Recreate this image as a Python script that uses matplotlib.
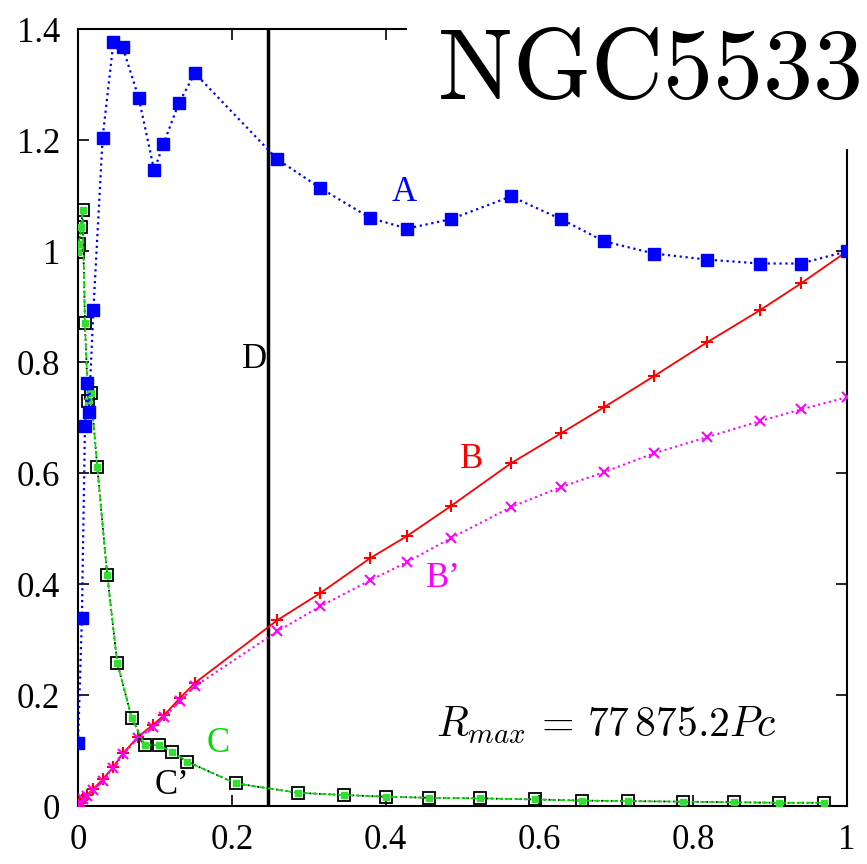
import matplotlib
matplotlib.use('Agg')
import matplotlib.pyplot as plt
import numpy as np

# curve A (blue squares)
a_x = [0.0, 0.005, 0.009, 0.012, 0.014, 0.020, 0.032, 0.046, 0.058, 0.079, 0.099,
       0.111, 0.131, 0.152, 0.259, 0.315, 0.380, 0.428, 0.485, 0.563, 0.628,
       0.684, 0.749, 0.818, 0.887, 0.940, 1.0]
a_y = [0.113, 0.339, 0.686, 0.762, 0.710, 0.895, 1.205, 1.377, 1.368, 1.276, 1.146,
       1.193, 1.267, 1.321, 1.166, 1.114, 1.060, 1.041, 1.058, 1.099, 1.058,
       1.018, 0.996, 0.985, 0.978, 0.978, 1.0]

# curves B (red) and B' (magenta) share the radial grid
b_x = [0.0, 0.003, 0.007, 0.012, 0.019, 0.032, 0.046, 0.059, 0.078, 0.098, 0.112,
       0.132, 0.152, 0.259, 0.315, 0.380, 0.428, 0.485, 0.563, 0.628, 0.684,
       0.749, 0.818, 0.887, 0.940, 1.0]
b_y = [0.0, 0.006, 0.012, 0.020, 0.030, 0.048, 0.071, 0.096, 0.125, 0.147, 0.164,
       0.194, 0.222, 0.335, 0.384, 0.447, 0.487, 0.541, 0.618, 0.672, 0.719,
       0.775, 0.836, 0.894, 0.942, 1.0]
bp_y = [0.0, 0.006, 0.012, 0.019, 0.029, 0.046, 0.069, 0.094, 0.122, 0.143, 0.160,
        0.190, 0.216, 0.315, 0.360, 0.407, 0.440, 0.483, 0.539, 0.575, 0.602,
        0.636, 0.665, 0.694, 0.715, 0.737]

# curves C (green) and C' (black)
c_x = [0.0, 0.001, 0.004, 0.006, 0.009, 0.013, 0.017, 0.025, 0.038, 0.051, 0.070,
       0.087, 0.105, 0.122, 0.142, 0.205, 0.286, 0.346, 0.400, 0.456, 0.523,
       0.594, 0.655, 0.715, 0.787, 0.853, 0.912, 0.970]
c_y = [0.998, 1.013, 1.043, 1.075, 0.870, 0.730, 0.744, 0.611, 0.416, 0.258, 0.158,
       0.110, 0.110, 0.098, 0.080, 0.041, 0.024, 0.020, 0.017, 0.015, 0.014,
       0.012, 0.010, 0.009, 0.008, 0.007, 0.006, 0.006]

d_x = 0.247

xticks = [0, 0.2, 0.4, 0.6, 0.8, 1]
xtick_labels = ['0', '0.2', '0.4', '0.6', '0.8', '1']
yticks = [0, 0.2, 0.4, 0.6, 0.8, 1, 1.2, 1.4]
ytick_labels = ['0', '0.2', '0.4', '0.6', '0.8', '1', '1.2', '1.4']

plt.rcParams['mathtext.fontset'] = 'cm'
serif = 'Liberation Serif'

fig = plt.figure(figsize=(8.67, 8.64), dpi=100)
ax = fig.add_axes([0.09, 0.067, 0.887, 0.899])

ax.plot(a_x, a_y, color='blue', linestyle=':', lw=1.6, marker='s', ms=8,
        markeredgecolor='blue', zorder=4)
ax.plot(b_x, b_y, color='red', linestyle='-', lw=1.3, marker='+', ms=9,
        markeredgewidth=1.5, zorder=3)
ax.plot(b_x, bp_y, color='magenta', linestyle=':', lw=1.5, marker='x', ms=7,
        markeredgewidth=1.5, zorder=3)
ax.plot(c_x, c_y, color='black', linestyle=':', lw=1.3, marker='s', ms=8,
        markerfacecolor='none', markeredgecolor='black', markeredgewidth=1.3, zorder=3)
ax.plot(c_x, c_y, color='#00dd00', linestyle='--', lw=1.2, marker='s', ms=5,
        markerfacecolor='#33dd33', markeredgecolor='#33dd33', zorder=3)

ax.axvline(d_x, color='black', lw=2.5, zorder=2)

ax.text(0.408, 1.09, 'A', color='blue', fontsize=25, family=serif)
ax.text(0.497, 0.61, 'B', color='red', fontsize=25, family=serif)
ax.text(0.452, 0.395, "B\u2019", color='magenta', fontsize=25, family=serif)
ax.text(0.167, 0.098, 'C', color='#00dd00', fontsize=25, family=serif)
ax.text(0.099, 0.022, "C\u2019", color='black', fontsize=25, family=serif)
ax.text(0.213, 0.79, 'D', color='black', fontsize=25, family=serif)
ax.text(0.465, 0.125, r'$R_{max}\, =\, 77\,875.2Pc$', fontsize=30, color='black')

ax.set_xlim(0, 1)
ax.set_ylim(0, 1.4)
ax.set_xticks(xticks)
ax.set_xticklabels(xtick_labels, family=serif)
ax.set_yticks(yticks)
ax.set_yticklabels(ytick_labels, family=serif)
ax.tick_params(direction='in', top=True, right=True, length=8, width=1.2,
               labelsize=25, pad=13)
for s in ax.spines.values():
    s.set_linewidth(1.5)

fig.text(0.992, 0.887, r'$\mathrm{NGC5533}$', fontsize=72, ha='right', va='baseline',
         bbox=dict(boxstyle='square,pad=0.3', fc='white', ec='none'), zorder=10)

fig.savefig('out.png', dpi=100)
